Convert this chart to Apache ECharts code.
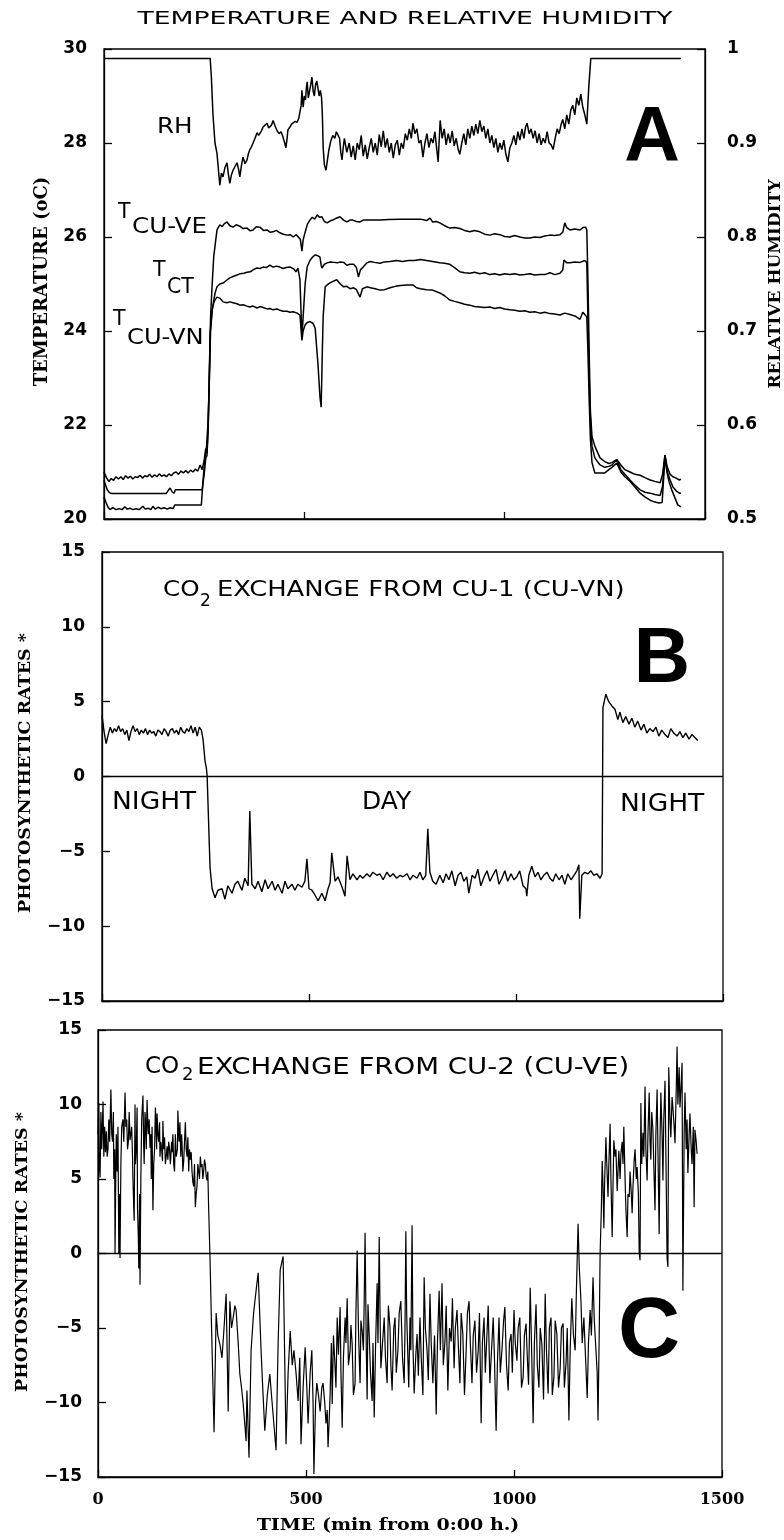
<!DOCTYPE html>
<html><head><meta charset="utf-8">
<script src="https://cdn.jsdelivr.net/npm/echarts@6/dist/echarts.min.js"></script>
<style>html,body{margin:0;padding:0;background:#fff}#c{width:784px;height:1540px}</style>
</head><body><div id="c"></div>
<script>
// ---------- axis ticks ----------
const timeTicks = [0, 500, 1000, 1500];
const tempTicks = [20, 22, 24, 26, 28, 30];
const rhTicks = [0.5, 0.6, 0.7, 0.8, 0.9, 1];
const rateTicks = [-15, -10, -5, 0, 5, 10, 15];

// ---------- panel A : relative humidity [min, RH] ----------
const rhSeries = [[0,0.99],[265,0.99],[268,0.97],[272,0.93],[277,0.90],[282,0.889],[286,0.87],[289,0.855],[293,0.868],[297,0.864],[302,0.874],[307,0.879],[310,0.868],[314,0.857],[318,0.866],[322,0.871],[327,0.875],[332,0.879],[336,0.872],[339,0.864],[343,0.876],[347,0.885],[352,0.878],[357,0.882],[360,0.888],[364,0.893],[368,0.896],[372,0.90],[377,0.905],[382,0.911],[386,0.908],[389,0.906],[393,0.913],[397,0.917],[402,0.919],[407,0.921],[411,0.916],[414,0.914],[418,0.919],[422,0.924],[427,0.918],[432,0.913],[437,0.91],[442,0.912],[447,0.906],[451,0.90],[454,0.895],[457,0.905],[459,0.914],[464,0.917],[468,0.92],[472,0.921],[477,0.923],[482,0.922],[486,0.926],[489,0.924],[492,0.94],[494,0.956],[497,0.938],[500,0.95],[503,0.946],[505,0.958],[507,0.965],[510,0.948],[513,0.955],[516,0.962],[519,0.97],[522,0.955],[525,0.95],[528,0.962],[531,0.966],[534,0.958],[537,0.95],[540,0.956],[543,0.948],[545,0.93],[547,0.895],[550,0.877],[554,0.871],[557,0.88],[561,0.892],[566,0.902],[571,0.908],[576,0.905],[580,0.912],[584,0.914],[588,0.905],[591,0.89],[594,0.882],[597,0.895],
[600,0.905],[606,0.89],[612,0.9],[617,0.885],[622,0.897],[627,0.882],[632,0.9],[637,0.893],[642,0.908],[647,0.886],[652,0.898],[657,0.883],[662,0.895],[667,0.905],[672,0.89],[677,0.9],[682,0.887],[687,0.909],[692,0.896],[697,0.913],[702,0.895],[707,0.905],[712,0.89],[717,0.9],[722,0.884],[727,0.898],[732,0.903],[737,0.887],[742,0.9],[747,0.894],[752,0.91],[757,0.903],[762,0.915],[767,0.905],[771,0.921],[776,0.91],[781,0.915],[786,0.9],[791,0.903],[796,0.885],[801,0.9],[806,0.91],[811,0.895],[816,0.905],[821,0.9],[826,0.912],[830,0.895],[834,0.88],[839,0.924],[844,0.905],[849,0.915],[854,0.898],[859,0.91],[864,0.9],[869,0.913],[874,0.897],[879,0.905],[884,0.893],[888,0.888],[893,0.9],[898,0.91],[903,0.898],[908,0.915],[913,0.905],[918,0.918],[923,0.908],[928,0.92],[933,0.91],[938,0.924],[943,0.912],[948,0.918],[953,0.905],[958,0.915],[963,0.9],[968,0.908],[973,0.895],[978,0.905],[983,0.89],[988,0.9],[993,0.893],[998,0.903],[1003,0.888],[1008,0.88],[1013,0.895],[1018,0.9],[1023,0.908],[1028,0.898],[1033,0.912],[1038,0.903],[1043,0.915],[1048,0.905],[1052,0.917],[1056,0.921],[1061,0.91],[1066,0.915],[1071,0.905],[1076,0.913],[1081,0.9],[1086,0.91],[1091,0.898],[1096,0.905],[1101,0.9],[1106,0.912],[1111,0.9],[1116,0.898],[1121,0.893],[1126,0.905],[1131,0.915],[1136,0.91],[1141,0.92],[1145,0.925],[1150,0.915],[1155,0.93],[1160,0.92],[1165,0.935],[1170,0.94],[1175,0.93],[1180,0.948],[1185,0.94],[1190,0.952],[1195,0.938],[1200,0.93],[1205,0.92],[1210,0.96],[1215,0.99],[1440,0.99]];

// ---------- panel A : temperatures [min, degC] ----------
const tempCuVe = [[0,21.0],[6,20.88],[12,20.8],[18,20.86],[24,20.82],[30,20.9],[36,20.85],[42,20.9],[48,20.84],[54,20.92],[60,20.87],[66,20.91],[72,20.85],[78,20.9],[84,20.88],[90,20.93],[96,20.87],[102,20.92],[108,20.9],[114,20.95],[120,20.89],[126,20.94],[132,20.9],[138,20.96],[144,20.91],[150,20.94],[156,20.9],[162,20.96],[168,20.92],[174,20.98],[180,21.0],[186,20.95],[192,21.02],[198,20.98],[204,21.03],[210,20.98],[216,21.04],[222,21.0],[228,21.06],[234,21.02],[240,21.15],[245,21.05],[250,21.25],[254,21.5],[257,21.4],[260,22.0],[263,23.2],[266,24.3],[270,25.0],[274,25.6],[277,25.8],[282,26.15],[289,26.26],[295,26.22],[300,26.28],[307,26.32],[314,26.24],[322,26.21],[330,26.26],[339,26.23],[347,26.18],[357,26.19],[365,26.13],[372,26.15],[380,26.22],[389,26.21],[398,26.14],[407,26.15],[415,26.1],[422,26.11],[430,26.14],[439,26.09],[448,26.06],[457,26.04],[465,26.05],[472,26.0],[480,26.05],[484,26.09],[490,25.95],[494,25.7],[497,25.94],[502,26.1],[508,26.28],[514,26.36],[520,26.42],[526,26.38],[532,26.47],[538,26.42],[544,26.43],[550,26.33],[557,26.3],[564,26.34],[571,26.36],[580,26.4],[589,26.43],[598,26.36],[606,26.32],[614,26.36],[621,26.36],[630,26.33],[639,26.32],[647,26.36],[656,26.36],[670,26.36],[689,26.36],[710,26.37],[739,26.38],[760,26.38],[790,26.38],[805,26.35],[814,26.4],[820,26.32],[830,26.33],[838,26.3],[850,26.24],[863,26.19],[875,26.2],[888,26.18],[900,26.14],[913,26.11],[925,26.14],[938,26.11],[950,26.06],[963,26.04],[975,26.07],[988,26.05],[1000,26.01],[1013,26.0],[1025,26.03],[1038,26.0],[1050,25.98],[1063,25.98],[1075,26.0],[1088,25.99],[1100,26.02],[1113,26.04],[1125,26.03],[1138,26.05],[1145,26.1],[1150,26.3],[1155,26.2],[1163,26.15],[1175,26.17],[1188,26.15],[1195,26.2],[1202,26.21],[1205,26.15],[1208,25.0],[1211,23.5],[1214,22.3],[1218,21.75],[1225,21.55],[1238,21.3],[1250,21.22],[1260,21.18],[1268,21.2],[1275,21.24],[1280,21.26],[1290,21.15],[1300,21.05],[1313,21.0],[1325,20.95],[1338,20.93],[1350,20.88],[1363,20.83],[1375,20.8],[1388,20.77],[1394,20.95],[1400,21.36],[1406,21.1],[1413,20.95],[1420,20.9],[1428,20.87],[1436,20.83],[1440,20.85]];

const tempCt = [[0,20.82],[4,20.72],[8,20.62],[14,20.56],[20,20.54],[40,20.54],[60,20.54],[80,20.54],[100,20.54],[120,20.54],[140,20.54],[155,20.54],[160,20.6],[165,20.66],[170,20.58],[175,20.55],[178,20.62],[190,20.62],[210,20.62],[230,20.62],[245,20.62],[250,20.95],[254,21.3],[257,21.35],[260,21.9],[263,23.0],[266,24.0],[270,24.45],[274,24.65],[277,24.8],[282,24.94],[289,25.0],[297,25.02],[306,25.08],[314,25.13],[322,25.16],[332,25.19],[340,25.22],[349,25.23],[357,25.25],[365,25.26],[372,25.3],[381,25.34],[389,25.33],[397,25.36],[405,25.35],[414,25.4],[422,25.36],[431,25.38],[439,25.36],[447,25.33],[455,25.35],[465,25.36],[474,25.32],[479,25.26],[484,25.34],[489,25.1],[494,23.85],[497,24.3],[502,25.0],[507,25.36],[514,25.5],[520,25.57],[527,25.62],[534,25.6],[539,25.57],[542,25.4],[544,25.34],[550,25.42],[557,25.45],[565,25.47],[574,25.46],[582,25.45],[590,25.47],[598,25.46],[606,25.4],[614,25.42],[623,25.42],[630,25.35],[635,25.15],[640,25.3],[647,25.36],[656,25.45],[665,25.48],[675,25.46],[689,25.44],[700,25.47],[714,25.48],[730,25.5],[745,25.48],[760,25.5],[775,25.5],[790,25.52],[805,25.5],[820,25.48],[838,25.45],[850,25.44],[863,25.42],[875,25.35],[888,25.26],[900,25.24],[913,25.23],[925,25.25],[938,25.22],[950,25.24],[963,25.2],[975,25.22],[988,25.19],[1000,25.22],[1013,25.2],[1025,25.22],[1038,25.19],[1050,25.2],[1063,25.22],[1075,25.19],[1088,25.2],[1100,25.2],[1113,25.24],[1125,25.2],[1138,25.23],[1145,25.3],[1148,25.51],[1155,25.45],[1163,25.45],[1175,25.47],[1188,25.46],[1200,25.5],[1205,25.45],[1208,24.2],[1211,23.0],[1214,22.1],[1218,21.55],[1225,21.3],[1238,21.15],[1250,21.1],[1260,21.12],[1268,21.15],[1280,21.26],[1290,21.05],[1300,20.95],[1313,20.83],[1325,20.72],[1338,20.62],[1350,20.57],[1363,20.55],[1375,20.52],[1388,20.5],[1394,20.7],[1400,21.36],[1406,21.0],[1413,20.83],[1420,20.68],[1428,20.6],[1436,20.55],[1440,20.55]];

const tempCuVn = [[0,20.47],[5,20.35],[10,20.25],[15,20.2],[22,20.24],[30,20.2],[38,20.22],[45,20.2],[52,20.26],[58,20.21],[65,20.23],[72,20.2],[80,20.22],[88,20.2],[97,20.27],[103,20.21],[110,20.23],[117,20.2],[122,20.27],[128,20.21],[135,20.25],[142,20.22],[150,20.24],[158,20.21],[165,20.24],[172,20.22],[177,20.3],[190,20.3],[210,20.3],[230,20.3],[243,20.3],[247,20.8],[252,21.3],[256,21.55],[260,22.1],[263,23.0],[265,23.96],[270,24.45],[274,24.6],[277,24.66],[282,24.72],[289,24.7],[297,24.62],[307,24.6],[314,24.62],[322,24.6],[332,24.58],[339,24.55],[347,24.56],[357,24.53],[364,24.51],[372,24.53],[382,24.49],[389,24.52],[397,24.5],[407,24.47],[414,24.48],[422,24.45],[432,24.47],[439,24.44],[447,24.42],[457,24.42],[464,24.4],[472,24.41],[482,24.38],[489,24.34],[494,23.8],[497,24.0],[502,24.13],[507,24.18],[514,24.2],[522,24.16],[527,24.06],[534,23.3],[539,22.6],[542,22.38],[545,23.6],[547,24.3],[552,24.94],[557,24.98],[563,25.02],[570,25.05],[581,25.09],[590,25.0],[598,24.94],[606,24.95],[614,24.9],[623,24.92],[630,24.88],[639,24.72],[645,24.9],[656,24.94],[665,24.92],[677,24.9],[689,24.87],[700,24.88],[714,24.92],[727,24.95],[740,24.97],[756,24.98],[771,24.98],[780,24.92],[790,24.9],[805,24.88],[820,24.87],[838,24.81],[850,24.75],[863,24.66],[875,24.63],[888,24.6],[900,24.57],[913,24.55],[925,24.52],[938,24.51],[950,24.5],[963,24.51],[975,24.48],[988,24.5],[1000,24.47],[1013,24.45],[1025,24.44],[1038,24.42],[1050,24.43],[1063,24.4],[1075,24.41],[1088,24.38],[1100,24.4],[1113,24.37],[1125,24.36],[1138,24.34],[1150,24.38],[1163,24.35],[1175,24.32],[1188,24.25],[1195,24.4],[1200,24.35],[1205,24.3],[1208,23.5],[1211,22.5],[1214,21.7],[1218,21.2],[1225,20.98],[1238,20.98],[1250,20.98],[1260,21.05],[1268,21.1],[1280,21.19],[1290,21.0],[1300,20.9],[1313,20.8],[1325,20.68],[1338,20.55],[1350,20.47],[1363,20.4],[1375,20.36],[1385,20.34],[1393,20.35],[1400,21.3],[1405,21.0],[1410,20.8],[1417,20.62],[1425,20.45],[1432,20.3],[1440,20.26]];

// ---------- panel B : CO2 exchange CU-1 [min, rate] ----------
const rateCu1 = [[0,4.1],[5,3.0],[10,2.2],[15,2.8],[20,3.3],[25,2.9],[30,3.2],[35,3.0],[40,3.4],[45,3.0],[50,3.2],[55,2.8],[60,3.1],[65,2.4],[70,3.0],[75,3.4],[80,3.0],[85,3.2],[90,2.8],[95,3.1],[100,2.9],[105,3.2],[110,2.8],[115,3.1],[120,2.9],[125,3.0],[130,2.7],[135,3.1],[140,3.0],[145,2.8],[150,3.2],[155,3.0],[160,2.7],[165,3.1],[170,3.2],[175,2.9],[180,3.1],[185,2.8],[190,3.3],[195,3.0],[200,2.9],[205,3.2],[210,3.0],[215,3.4],[220,2.9],[225,3.3],[230,2.7],[235,3.3],[240,3.1],[244,2.5],[249,1.0],[252,0.6],[254,0.0],[258,-3.5],[261,-6.1],[266,-7.5],[273,-8.1],[280,-7.6],[290,-7.5],[297,-8.2],[304,-7.3],[314,-7.8],[321,-7.2],[328,-7.0],[338,-7.6],[345,-6.8],[353,-7.3],[357,-2.3],[362,-7.2],[370,-7.5],[377,-7.0],[386,-7.7],[394,-6.9],[401,-7.5],[411,-7.0],[418,-7.6],[425,-7.2],[435,-7.8],[442,-7.0],[449,-7.5],[459,-7.2],[466,-7.6],[473,-7.2],[483,-7.4],[490,-7.0],[495,-5.5],[500,-7.5],[507,-7.6],[514,-7.9],[522,-8.3],[531,-7.8],[539,-8.3],[546,-7.5],[551,-7.1],[555,-5.1],[563,-7.0],[570,-6.7],[580,-7.4],[587,-8.0],[592,-5.3],[599,-6.9],[606,-6.5],[616,-6.9],[623,-6.6],[630,-6.8],[640,-6.5],[647,-6.7],[654,-6.4],[664,-6.6],[671,-6.5],[679,-6.9],[688,-6.4],[696,-6.7],[703,-6.5],[712,-6.8],[720,-6.6],[727,-6.7],[737,-6.5],[744,-6.9],[751,-6.6],[761,-6.8],[768,-6.4],[775,-6.9],[782,-6.6],[787,-3.5],[792,-6.4],[799,-7.0],[807,-7.2],[816,-6.6],[824,-7.1],[831,-6.5],[838,-6.9],[845,-6.3],[853,-7.3],[860,-6.6],[867,-6.4],[874,-7.0],[881,-6.7],[886,-7.8],[894,-6.6],[901,-6.8],[908,-6.2],[915,-7.3],[923,-6.7],[930,-6.3],[937,-7.0],[944,-6.6],[952,-6.2],[959,-7.2],[966,-6.8],[973,-6.3],[980,-7.0],[988,-6.5],[995,-6.9],[1002,-6.7],[1009,-6.3],[1017,-7.3],[1024,-7.5],[1026,-8.0],[1031,-6.6],[1038,-6.0],[1046,-6.7],[1053,-6.4],[1060,-6.9],[1067,-6.6],[1075,-6.4],[1082,-6.8],[1089,-7.0],[1096,-6.5],[1104,-6.9],[1111,-6.6],[1118,-7.2],[1125,-6.5],[1133,-6.9],[1140,-6.6],[1147,-6.3],[1152,-5.9],[1154,-9.5],[1159,-6.6],[1166,-6.4],[1174,-6.5],[1181,-6.3],[1188,-6.6],[1195,-6.5],[1203,-6.8],[1208,-6.5],[1210,4.6],[1217,5.5],[1224,5.0],[1232,4.7],[1239,4.5],[1246,3.8],[1251,4.3],[1258,3.6],[1265,4.0],[1273,3.5],[1280,3.9],[1287,3.3],[1294,3.7],[1302,3.1],[1309,3.5],[1316,2.9],[1323,3.2],[1331,3.0],[1338,3.3],[1345,2.7],[1352,3.1],[1360,2.8],[1367,2.6],[1374,3.2],[1381,2.9],[1389,2.7],[1396,3.0],[1403,2.6],[1410,2.9],[1418,2.5],[1425,2.8],[1432,2.6],[1439,2.4]];

// ---------- panel C : CO2 exchange CU-2 [min, rate] ----------
const rateCu2Night1 = [[0,8.0],[2,10.1],[3,6.0],[5,5.1],[7,9.5],[9,7.0],[12,10.2],[14,6.5],[16,8.5],[18,6.8],[20,8.2],[22,6.5],[24,7.0],[26,9.0],[28,7.5],[31,11.0],[33,8.0],[35,7.5],[37,9.5],[38,5.0],[40,7.0],[41,0.0],[43,6.0],[44,8.0],[46,5.5],[48,8.5],[50,0.0],[52,4.0],[53,-0.3],[55,6.0],[57,8.5],[60,9.0],[62,7.5],[65,10.8],[67,8.5],[69,9.0],[71,7.0],[73,7.5],[75,9.5],[77,7.6],[79,8.0],[81,8.5],[83,6.5],[84,5.0],[86,3.0],[87,2.2],[89,10.0],[90,6.0],[92,7.0],[94,9.8],[95,3.0],[97,1.0],[98,-1.0],[100,4.0],[101,-2.1],[103,5.0],[105,9.0],[108,10.6],[110,7.0],[111,6.0],[113,9.5],[114,9.0],[116,7.0],[118,10.3],[120,8.5],[121,8.0],[123,9.0],[125,7.1],[127,8.0],[128,5.0],[130,8.5],[132,2.9],[134,6.0],[136,7.0],[138,9.8],[139,9.0],[141,7.0],[142,9.4],[144,8.0],[146,7.5],[148,8.8],[149,6.5],[151,7.5],[153,7.0],[155,6.2],[156,8.9],[158,7.0],[160,7.8],[162,6.0],[164,6.5],[166,7.2],[168,6.3],[170,7.5],[172,7.0],[174,6.0],[175,6.5],[177,7.5],[178,6.8],[180,8.0],[182,6.0],[184,5.5],[186,8.0],[188,6.5],[189,6.5],[191,7.0],[192,9.6],[194,8.0],[195,7.5],[197,8.8],[199,6.5],[201,8.0],[202,7.4],[204,5.5],[206,6.2],[208,7.5],[210,8.8],[212,7.0],[214,6.5],[216,7.8],[218,5.5],[220,7.0],[222,6.3],[224,6.8],[226,5.5],[228,4.8],[230,4.5],[232,6.0],[234,3.1],[236,4.0],[238,4.5],[240,6.0],[242,5.5],[244,5.0],[246,6.5],[248,5.8],[250,6.0],[252,5.0],[254,5.5],[256,6.3],[258,6.0],[260,5.2],[262,4.9],[264,5.5],[266,3.0],[269,0.0],[273,-5.0]];
const rateCu2Day = [[279,-12.0],[284,-4.0],[288,-5.5],[293,-6.1],[298,-7.0],[303,-5.0],[308,-2.7],[313,-10.6],[317,-3.2],[321,-5.0],[325,-4.3],[329,-3.5],[332,-3.8],[337,-6.0],[341,-8.1],[345,-9.0],[349,-10.1],[353,-11.5],[356,-12.6],[358,-9.2],[363,-13.7],[368,-6.5],[374,-4.0],[380,-2.5],[385,-1.3],[392,-6.5],[396,-9.0],[401,-11.9],[407,-9.5],[413,-8.1],[420,-10.5],[428,-13.2],[433,-6.0],[438,-1.1],[445,-0.2],[452,-12.8],[457,-8.0],[462,-5.2],[467,-7.5],[471,-6.5],[476,-8.0],[481,-9.9],[485,-7.0],[488,-12.8],[493,-9.0],[498,-6.3],[502,-9.0],[505,-11.4],[510,-8.0],[514,-6.5],[517,-10.0],[519,-14.8],[523,-10.0],[526,-8.7],[530,-9.5],[534,-10.6],[538,-9.0],[541,-8.7],[545,-10.0],[548,-11.4],[551,-10.5],[553,-13.0],[556,-11.0],
[558,-9.4],[561,-6.0],[563,-10.1],[566,-5.5],[570,-7.7],[572,-9.0],[575,-4.3],[578,-6.8],[582,-3.6],[584,-8.0],[587,-11.7],[590,-7.0],[594,-4.3],[596,-6.0],[599,-3.0],[602,-7.5],[606,-6.5],[608,-4.8],[611,-6.1],[614,-9.5],[618,-8.7],[620,-4.0],[623,0.2],[626,-5.0],[628,-7.0],[630,-8.7],[632,-4.5],[635,-5.2],[638,-6.5],[640,-3.0],[642,1.4],[645,-6.5],[647,-9.8],[649,-3.4],[652,-5.5],[655,-8.0],[659,-9.9],[661,-6.0],[664,-11.0],[667,-6.5],[671,-2.0],[673,-6.0],[676,1.1],[678,-4.0],[680,-7.7],[684,-6.0],[688,-4.3],[691,-7.0],[695,-8.7],[698,-3.5],[702,-5.0],[704,-7.5],[707,-9.2],[711,-5.0],[714,-4.3],[717,-8.0],[721,-6.5],[724,-4.0],[728,-3.2],[732,-7.0],[736,-8.7],[738,-5.0],[740,1.5],[742,-4.0],[744,-6.1],[747,-9.0],[750,-4.3],[752,-6.5],[755,1.9],[757,-6.0],[760,-9.4],[764,-6.8],[767,-5.4],[770,-8.2],[774,-4.3],[777,-7.0],[781,-9.5],[784,-1.6],[787,-5.0],[791,-6.5],[794,-8.5],[798,-2.7],[801,-6.0],[805,-8.7],[809,-5.5],[813,-10.8],[816,-6.0],[820,-2.5],[823,-6.5],[827,-2.0],[830,-7.5],[834,-5.9],[837,-3.5],[841,-9.2],[845,-5.0],[849,-5.9],[852,-3.0],[856,-7.7],[859,-5.0],[863,-3.8],[866,-6.0],[870,-8.7],[873,-4.0],[877,-5.4],[881,-9.5],[885,-6.5],[888,-4.0],[892,-3.2],[895,-6.0],[899,-8.7],[902,-5.5],[906,-4.5],[910,-8.0],[914,-6.5],[917,-4.0],[921,-11.4],[924,-6.0],[928,-4.3],[931,-8.0],[935,-5.4],[938,-3.5],[942,-8.7],[946,-6.5],[950,-4.3],[953,-7.0],[957,-11.9],[960,-7.5],[964,-4.3],[967,-8.0],[971,-6.5],[975,-4.5],[978,-3.6],[982,-7.5],[986,-9.2],[989,-6.0],[993,-5.4],[996,-8.0],[1000,-3.8],[1003,-6.0],[1007,-7.2],[1010,-5.0],[1014,-4.3],[1018,-9.0],[1022,-8.3],[1025,-5.5],[1029,-4.7],[1032,-7.0],[1035,-8.8],[1039,-2.3],[1042,-6.0],[1046,-11.4],[1049,-6.0],[1053,-3.4],[1056,-7.5],[1060,-9.0],[1063,-5.0],[1067,-6.1],[1071,-9.8],[1075,-2.7],[1078,-6.5],[1082,-9.4],[1085,-5.0],[1089,-4.3],[1092,-9.5],[1096,-8.3],[1099,-4.5],[1103,-5.4],[1107,-9.0],[1111,-7.7],[1114,-5.0],[1118,-4.7],[1121,-9.0],[1125,-7.4],[1128,-5.0],[1132,-11.2],[1135,-6.5],[1139,-3.0],[1143,-5.5],[1147,-6.5],[1150,-2.5],[1154,2.0],[1157,-1.0],[1161,-3.2],[1164,-6.0],[1168,-4.3],[1172,-7.0],[1176,-9.7],[1179,-6.0],[1183,-3.8],[1186,-5.5],[1190,-1.6],[1193,-4.5],[1197,-6.5],[1200,-8.0],[1202,-11.2],[1205,-5.0]];
const rateCu2Night2 = [[1207,0.0],[1210,3.0],[1212,6.2],[1214,4.5],[1216,1.7],[1218,5.0],[1221,7.8],[1223,6.0],[1226,3.8],[1228,6.0],[1231,8.7],[1233,5.0],[1236,1.1],[1238,4.5],[1240,7.6],[1243,6.5],[1245,7.0],[1248,4.2],[1250,5.5],[1252,6.9],[1255,5.0],[1257,6.7],[1260,7.5],[1262,6.0],[1264,8.5],[1267,5.0],[1269,3.0],[1272,1.1],[1274,4.0],[1277,3.8],[1279,5.5],[1282,4.0],[1284,2.7],[1286,4.5],[1289,6.3],[1291,7.0],[1294,5.0],[1296,5.8],[1299,4.0],[1301,0.0],[1303,-0.45],[1305,10.1],[1307,6.0],[1310,8.1],[1312,6.5],[1315,11.2],[1317,7.0],[1320,4.9],[1322,8.0],[1325,10.8],[1327,7.5],[1329,6.3],[1331,9.5],[1334,8.3],[1336,6.0],[1339,2.9],[1341,8.0],[1344,11.0],[1346,7.0],[1349,1.3],[1351,7.5],[1353,10.8],[1356,8.0],[1358,4.9],[1360,9.0],[1363,11.6],[1365,7.0],[1368,-0.3],[1370,-0.9],[1372,12.5],[1375,9.0],[1377,7.8],[1380,10.5],[1382,9.8],[1385,8.5],[1387,7.4],[1390,11.0],[1392,13.9],[1394,10.0],[1397,12.5],[1399,9.8],[1402,11.5],[1404,12.8],[1406,-2.5],[1409,8.0],[1411,10.8],[1414,7.0],[1416,9.0],[1418,5.4],[1421,8.0],[1423,9.4],[1426,7.0],[1428,6.0],[1431,8.5],[1433,3.1],[1435,8.3],[1438,7.5],[1440,6.7]];
const rateCu2 = rateCu2Night1.concat(rateCu2Day, rateCu2Night2);

// ---------- chart ----------
const SANS = '"DejaVu Sans", sans-serif';
const SERIF = '"DejaVu Serif", serif';
const BOLDSANS = '"Liberation Sans", Arial, sans-serif';
const INK = '#000';

function txt(x, y, text, size, o) {
  o = o || {};
  return {
    type: 'text', x: x, y: y, rotation: o.rot || 0, scaleX: o.sx || 1, scaleY: 1, silent: true,
    style: { text: text, fontSize: size, fontFamily: o.font || SANS, fontWeight: o.weight || 'normal',
      fill: INK, align: o.align || 'left', verticalAlign: 'middle' }
  };
}

const axisLineStyle = { color: INK, width: 1.3 };
const tickLabel = { color: INK, fontSize: 17, fontWeight: 'bold', fontFamily: SANS };
const minusFmt = v => (v < 0 ? '\u2212' + Math.abs(v) : String(v));

function xAx(i, showLabel) {
  return {
    gridIndex: i, type: 'value', min: timeTicks[0], max: timeTicks[timeTicks.length - 1], interval: 500,
    axisLine: { show: true, onZero: false, lineStyle: axisLineStyle },
    axisTick: { show: true, inside: true, length: 7, lineStyle: axisLineStyle },
    splitLine: { show: false },
    axisLabel: { show: showLabel, color: INK, fontSize: 16, fontWeight: 'bold', fontFamily: SERIF, margin: 15,
      formatter: v => String(v) }
  };
}
function yAx(i, ticks, pos, margin, fmt) {
  return {
    gridIndex: i, type: 'value', position: pos, min: ticks[0], max: ticks[ticks.length - 1],
    interval: ticks[1] - ticks[0],
    axisLine: { show: true, onZero: false, lineStyle: axisLineStyle },
    axisTick: { show: true, inside: true, length: 8, lineStyle: axisLineStyle },
    splitLine: { show: false },
    axisLabel: Object.assign({ margin: margin, formatter: fmt }, tickLabel)
  };
}
function line(data, xi, yi, w, extra) {
  return Object.assign({
    type: 'line', data: data, xAxisIndex: xi, yAxisIndex: yi, showSymbol: false, symbol: 'none',
    lineStyle: { color: INK, width: w }, itemStyle: { color: INK }, animation: false, z: 3
  }, extra || {});
}
const zeroLine = {
  markLine: { silent: true, symbol: 'none', label: { show: false },
    lineStyle: { color: INK, width: 1.3, type: 'solid' }, data: [{ yAxis: 0 }] }
};

const gridBox = { show: true, borderColor: INK, borderWidth: 1.3, backgroundColor: 'transparent' };

const option = {
  backgroundColor: '#fff',
  animation: false,
  grid: [
    Object.assign({ left: 104, top: 49, width: 601, height: 470 }, gridBox),
    Object.assign({ left: 102, top: 552, width: 621, height: 449 }, gridBox),
    Object.assign({ left: 98, top: 1030, width: 624, height: 447 }, gridBox)
  ],
  xAxis: [xAx(0, false), xAx(1, false), xAx(2, true)],
  yAxis: [
    yAx(0, tempTicks, 'left', 17, v => String(v)),
    yAx(0, rhTicks, 'right', 22, v => (Math.abs(v - 1) < 1e-9 ? '1' : v.toFixed(1))),
    yAx(1, rateTicks, 'left', 17, minusFmt),
    yAx(2, rateTicks, 'left', 16, minusFmt)
  ],
  series: [
    line(rhSeries, 0, 1, 1.5),
    line(tempCuVe, 0, 0, 1.5),
    line(tempCt, 0, 0, 1.5),
    line(tempCuVn, 0, 0, 1.5),
    line(rateCu1, 1, 2, 1.4, zeroLine),
    line(rateCu2, 2, 3, 1.2, zeroLine)
  ],
  graphic: [
    txt(405, 19, 'TEMPERATURE AND RELATIVE HUMIDITY', 18, { align: 'center', sx: 1.48 }),
    // panel A annotations
    txt(157, 128, 'RH', 20.5, { sx: 1.2 }),
    txt(118, 212.5, 'T', 20.5), txt(132, 227.5, 'CU-VE', 20.5, { sx: 1.2 }),
    txt(153, 270.5, 'T', 20.5), txt(167, 287.5, 'CT', 20.5),
    txt(113, 320, 'T', 20.5), txt(127, 338.5, 'CU-VN', 20.5, { sx: 1.18 }),
    txt(652, 140, 'A', 77, { align: 'center', font: BOLDSANS, weight: 'bold' }),
    // panel B annotations
    txt(163, 590.5, 'CO', 20.5, { sx: 1.2 }),
    txt(200, 601.5, '2', 17),
    txt(217, 590.5, 'EXCHANGE FROM CU-1 (CU-VN)', 20.5, { sx: 1.26 }),
    txt(662, 660, 'B', 78, { align: 'center', font: BOLDSANS, weight: 'bold' }),
    txt(112, 802.5, 'NIGHT', 25, { sx: 1.06 }),
    txt(362, 802.5, 'DAY', 25),
    txt(620, 804, 'NIGHT', 25, { sx: 1.06 }),
    // panel C annotations
    txt(145, 1067.5, 'CO', 23),
    txt(182, 1075, '2', 18),
    txt(197, 1068, 'EXCHANGE FROM CU-2 (CU-VE)', 23, { sx: 1.2 }),
    txt(649, 1333, 'C', 86, { align: 'center', font: BOLDSANS, weight: 'bold' }),
    // axis titles
    txt(42, 281.5, 'TEMPERATURE (oC)', 18, { align: 'center', rot: Math.PI / 2, font: SERIF, weight: 'bold' }),
    txt(776, 284, 'RELATIVE HUMIDITY', 17, { align: 'center', rot: Math.PI / 2, font: SERIF, weight: 'bold' }),
    txt(25, 773, 'PHOTOSYNTHETIC RATES *', 17.5, { align: 'center', rot: Math.PI / 2, font: SERIF, weight: 'bold' }),
    txt(22, 1252, 'PHOTOSYNTHETIC RATES *', 17.5, { align: 'center', rot: Math.PI / 2, font: SERIF, weight: 'bold' }),
    txt(388, 1526, 'TIME (min from 0:00 h.)', 17, { align: 'center', font: SERIF, weight: 'bold', sx: 1.12 })
  ]
};

const chart = echarts.init(document.getElementById('c'), null, { renderer: 'canvas', width: 784, height: 1540 });
chart.setOption(option);
</script>
</body></html>
